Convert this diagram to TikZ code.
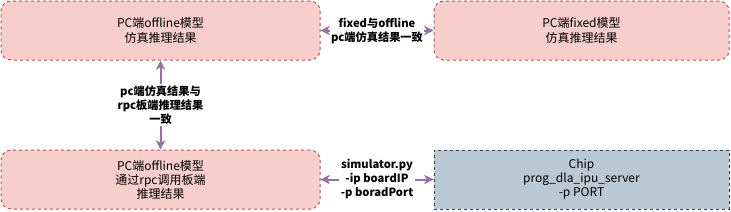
\documentclass[tikz,border=0pt]{standalone}
\usepackage{fontspec}
\setmainfont{Noto Sans CJK SC}
\usetikzlibrary{arrows.meta}
\definecolor{redfill}{HTML}{F8CECC}
\definecolor{redline}{HTML}{B85450}
\definecolor{bluefill}{HTML}{BAC8D3}
\definecolor{blueline}{HTML}{23445D}
\definecolor{arrowc}{HTML}{9673A6}
\tikzset{
  redbox/.style={draw=redline, fill=redfill, line width=0.75pt, dash pattern=on 2.25pt off 2.25pt,
    rounded corners=7.5pt, minimum height=44.25pt, align=center, font=\fontsize{9pt}{11pt}\selectfont, inner sep=0pt},
  bluebox/.style={draw=blueline, fill=bluefill, line width=0.75pt, dash pattern=on 2.25pt off 2.25pt,
    minimum height=44.25pt, align=center, font=\fontsize{9pt}{10.5pt}\selectfont, inner sep=0pt},
  conn/.style={draw=arrowc, line width=1.5pt, {Stealth[length=7pt,width=7pt,inset=2pt]}-{Stealth[length=7pt,width=7pt,inset=2pt]}},
  lbl/.style={fill=white, align=center, font=\fontsize{8.4pt}{10.5pt}\selectfont\bfseries, inner sep=1pt, text=black}
}
\begin{document}
\begin{tikzpicture}[x=0.75pt,y=-0.75pt]
\useasboundingbox (0,0) rectangle (731,211);
\node[redbox, minimum width=239.25pt] (a) at (160.5,30.5) {PC端offline模型\\仿真推理结果};
\node[redbox, minimum width=221.25pt] (b) at (581.5,30.5) {PC端fixed模型\\仿真推理结果};
\node[redbox, minimum width=239.25pt, font=\fontsize{9pt}{10.5pt}\selectfont] (c) at (160.5,179.5) {PC端offline模型\\通过rpc调用板端\\推理结果};
\node[bluebox, minimum width=221.25pt] (d) at (581.5,179.5) {Chip\\prog\_dla\_ipu\_server\\-p PORT};
\draw[conn] (a.east) -- node[lbl] {fixed与offline\\pc端仿真结果一致} (b.west);
\draw[conn] (a.south) -- node[lbl] {pc端仿真结果与\\rpc板端推理结果\\一致} (c.north);
\draw[conn] (c.east) -- node[lbl] {simulator.py\\-ip boardIP\\-p boradPort} (d.west);
\end{tikzpicture}
\end{document}
